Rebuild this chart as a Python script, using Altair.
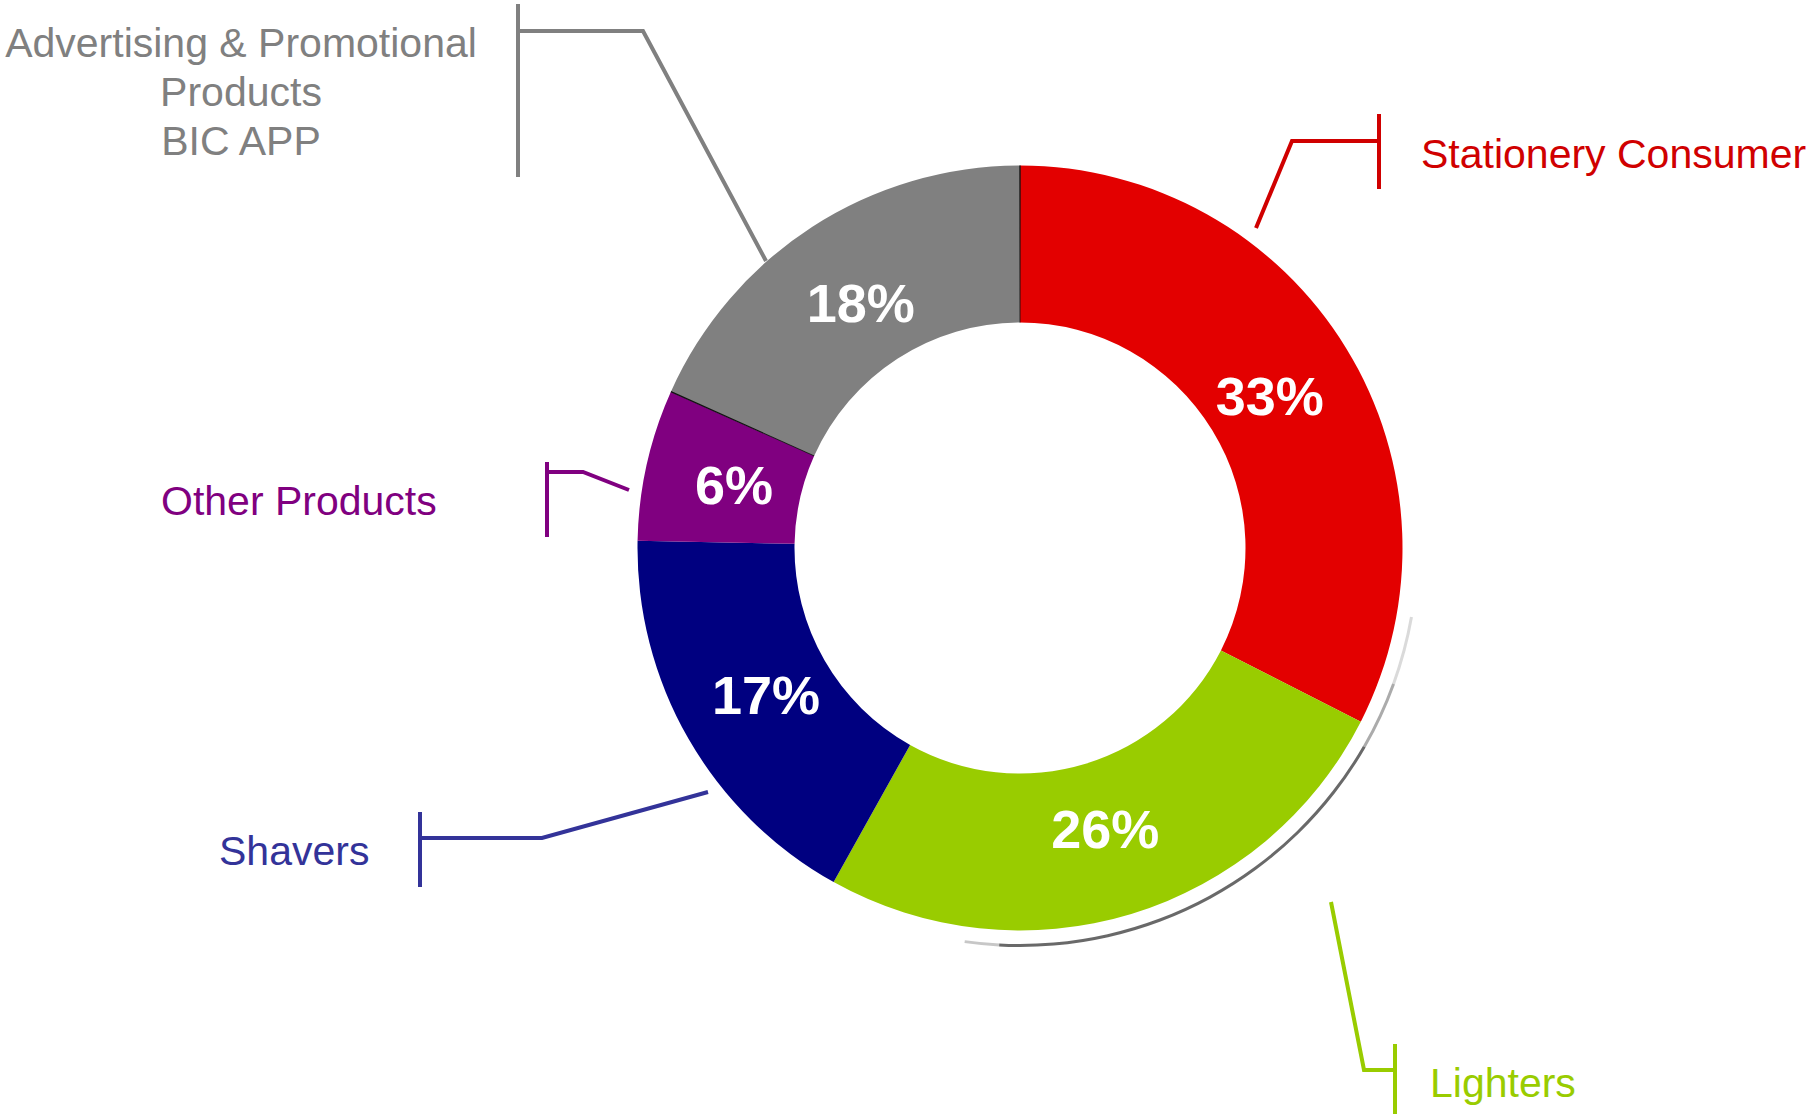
import math
import altair as alt
import pandas as pd

# ---- data ----
categories = ["Stationery Consumer", "Lighters", "Shavers", "Other Products",
              "Advertising & Promotional Products BIC APP"]
shares = [32.5, 25.6, 17.2, 6.4, 18.3]
pct_labels = ["33%", "26%", "17%", "6%", "18%"]
label_lines = ["Stationery Consumer", "Lighters", "Shavers", "Other Products",
               "Advertising & Promotional\n\u00a0Products\nBIC APP"]

# ---- styles / layout ----
slice_colors = ["#E30000", "#99CC00", "#000080", "#800080", "#808080"]
label_colors = ["#D00000", "#99CC00", "#333399", "#800080", "#808080"]
label_x = [1421, 1430, 219, 161, 241]
label_y = [168, 1097, 865, 515, 57]
label_align = ["left", "left", "left", "left", "center"]

# leader lines (pixel space of the 1807x1114 canvas)
leader_x = [
    [1379, 1379, 1379, 1292, 1256],
    [1395, 1395, 1395, 1364, 1331],
    [420, 420, 420, 542, 708],
    [547, 547, 547, 583, 629],
    [518, 518, 518, 643, 766],
]
leader_y = [
    [114, 189, 141, 141, 228],
    [1044, 1114, 1070, 1070, 902],
    [812, 887, 838, 838, 792],
    [462, 537, 472, 472, 490],
    [4, 177, 31, 31, 261],
]

W, H = 1807, 1114
CX, CY = 1020, 548
R_OUT, R_IN = 382.5, 225.5

pie = pd.DataFrame({
    "category": categories,
    "share": shares,
    "pct": pct_labels,
    "idx": list(range(len(categories))),
})

lab = pd.DataFrame({
    "text": label_lines,
    "x": label_x,
    "y": label_y,
    "color": label_colors,
    "align": label_align,
})

rows = []
for i, cat in enumerate(categories):
    for j, (px, py) in enumerate(zip(leader_x[i], leader_y[i])):
        rows.append({"series": cat, "k": j, "x": px, "y": py, "color": label_colors[i]})
lines = pd.DataFrame(rows)

xs = alt.Scale(domain=[0, W], nice=False, zero=False)
ys = alt.Scale(domain=[0, H], reverse=True, nice=False, zero=False)

# soft shadow under the lower-right rim
shadow_layers = []
for a0, a1, op in [(100, 110, 0.2), (110, 120, 0.45), (120, 183, 0.8), (183, 188, 0.3)]:
    shadow_layers.append(
        alt.Chart(pie.head(1)).mark_arc(radius=399, radius2=396, color="#444444", opacity=op)
        .encode(theta=alt.value(math.radians(a0)), theta2=alt.value(math.radians(a1)),
                x=alt.value(CX), y=alt.value(CY))
    )

arcs = alt.Chart(pie).mark_arc(radius=R_OUT, radius2=R_IN).encode(
    theta=alt.Theta("share:Q", stack=True),
    order=alt.Order("idx:Q"),
    color=alt.Color("category:N", scale=alt.Scale(domain=categories, range=slice_colors), legend=None),
    x=alt.value(CX), y=alt.value(CY),
)

# thin dark separators on both edges of the grey slice
total = sum(shares)
sep_angles = [0.0, 2 * math.pi * sum(shares[:4]) / total]
sep_layers = []
for a in sep_angles:
    sep_layers.append(
        alt.Chart(pie.head(1)).mark_arc(radius=R_OUT, radius2=R_IN, color="#111111")
        .encode(theta=alt.value(a - 0.0018), theta2=alt.value(a + 0.0018),
                x=alt.value(CX), y=alt.value(CY))
    )

pct = alt.Chart(pie).mark_text(
    radius=293, font="Liberation Sans", fontSize=54, fontWeight="bold",
    color="white", align="center", baseline="middle", dy=4,
).encode(
    theta=alt.Theta("share:Q", stack=True),
    order=alt.Order("idx:Q"),
    text="pct:N",
    x=alt.value(CX), y=alt.value(CY),
)

leaders = alt.Chart(lines).mark_line(strokeWidth=4, strokeCap="butt", strokeJoin="miter").encode(
    x=alt.X("x:Q", scale=xs, axis=None),
    y=alt.Y("y:Q", scale=ys, axis=None),
    detail="series:N",
    order="k:Q",
    stroke=alt.Stroke("color:N", scale=None),
)

text_layers = []
for al in ["left", "center"]:
    sub = lab[lab["align"] == al]
    text_layers.append(
        alt.Chart(sub).mark_text(
            font="Liberation Sans", fontSize=41, align=al, baseline="alphabetic",
            lineBreak="\n", lineHeight=49,
        ).encode(
            x=alt.X("x:Q", scale=xs, axis=None),
            y=alt.Y("y:Q", scale=ys, axis=None),
            text="text:N",
            color=alt.Color("color:N", scale=None),
        )
    )

chart = alt.layer(*shadow_layers, arcs, *sep_layers, pct, leaders, *text_layers).resolve_scale(
    color="independent"
).properties(
    width=W, height=H, padding=0, autosize="none", background="white"
).configure_view(strokeWidth=0)

chart.save("out.html", embed_options={"renderer": "svg", "actions": False})
